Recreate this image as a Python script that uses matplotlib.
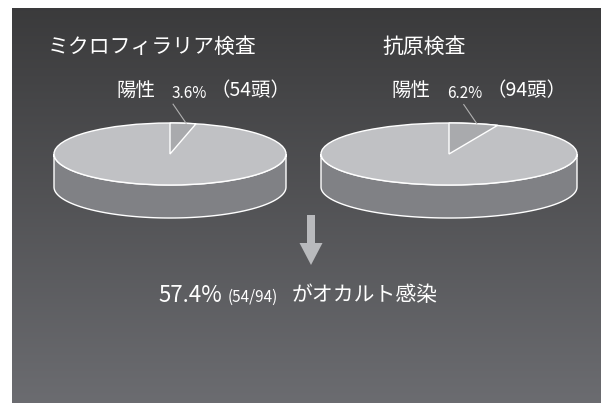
import numpy as np
import matplotlib.pyplot as plt
from matplotlib.patches import Ellipse, Polygon, FancyArrow

plt.rcParams['font.family'] = ['Noto Sans CJK JP', 'DejaVu Sans']

# test results
tests = ['ミクロフィラリア検査', '抗原検査']
positive_pct = [3.6, 6.2]
positive_heads = [54, 94]
occult_pct = 57.4

# pie geometry (pixel coordinates)
centers = [(170, 154), (449, 154)]
radii_x = [116, 128]
radius_y = 31
depth = 33

W, H = 601, 403
fig = plt.figure(figsize=(W / 100, H / 100), dpi=100)
ax = fig.add_axes([0, 0, 1, 1])
ax.set_xlim(0, W)
ax.set_ylim(H, 0)
ax.axis('off')

# dark gradient panel
grad = np.linspace(0, 1, 256).reshape(-1, 1)
top = np.array([0.23, 0.23, 0.235])
bot = np.array([0.42, 0.423, 0.44])
img = top + (bot - top) * grad[:, :, None]
ax.imshow(img, extent=[12, W, H, 8], aspect='auto', zorder=0)


def ellipse_pts(cx, cy, rx, ry, t):
    # t measured clockwise from 12 o'clock
    return np.column_stack([cx + rx * np.sin(t), cy - ry * np.cos(t)])


for (cx, cy), rx, pct in zip(centers, radii_x, positive_pct):
    # side wall (front half)
    t = np.linspace(np.pi / 2, 3 * np.pi / 2, 100)
    front = ellipse_pts(cx, cy, rx, radius_y, t)
    back = front[::-1] + [0, depth]
    ax.add_patch(Polygon(np.vstack([front, back]), closed=True,
                         fc='#808185', ec='white', lw=1.0, zorder=2))
    # top face
    ax.add_patch(Ellipse((cx, cy), 2 * rx, 2 * radius_y, fc='#c0c1c4',
                         ec='white', lw=1.0, zorder=3))
    # positive slice
    ang = 2 * np.pi * pct / 100
    ts = np.linspace(0, ang, 30)
    pts = np.vstack([[cx, cy], ellipse_pts(cx, cy, rx, radius_y, ts)])
    ax.add_patch(Polygon(pts, closed=True, fc='#a9aaad', ec='white',
                         lw=1.0, zorder=4))
    # leader line
    mid = ellipse_pts(cx, cy, rx, radius_y, np.array([ang / 2]))[0]
    ax.plot([mid[0] + 3, mid[0] - 10], [mid[1], mid[1] - 19],
            color='#b0b0b0', lw=0.8, zorder=5)

# titles
ax.text(48, 47, tests[0], color='white', fontsize=15, ha='left',
        va='center', zorder=6)
ax.text(382, 47, tests[1], color='white', fontsize=15, ha='left',
        va='center', zorder=6)

# positive labels
label_x = [(116, 172, 211), (391, 447, 486)]
for (x1, x2, x3), pct, n in zip(label_x, positive_pct, positive_heads):
    ax.text(x1, 91, '陽性', color='white', fontsize=14, ha='left',
            va='center', zorder=6)
    ax.text(x2, 93, f'{pct:.1f}%', color='white', fontsize=11,
            ha='left', va='center', zorder=6)
    ax.text(x3, 91, f'（{n}頭）', color='white', fontsize=14, ha='left',
            va='center', zorder=6)

# arrow
ax.add_patch(FancyArrow(311, 215, 0, 50, width=8, head_width=23,
                        head_length=22, length_includes_head=True,
                        fc='#b9babd', ec='none', zorder=6))

# conclusion
ax.text(158, 295, f'{occult_pct}%', color='white', fontsize=16, ha='left',
        va='center', zorder=6)
ax.text(228, 297, f'({positive_heads[0]}/{positive_heads[1]})',
        color='white', fontsize=11, ha='left', va='center', zorder=6)
ax.text(292, 295, 'がオカルト感染', color='white', fontsize=15, ha='left',
        va='center', zorder=6)

fig.savefig('out.png', dpi=100, facecolor='white')
